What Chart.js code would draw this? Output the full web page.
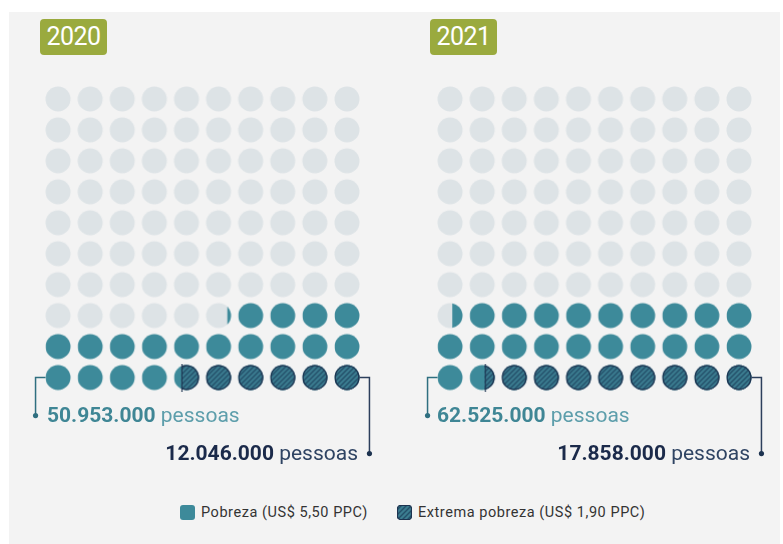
<!DOCTYPE html>
<html>
<head>
<meta charset="utf-8">
<script src="https://cdn.jsdelivr.net/npm/chart.js@4.4.1/dist/chart.umd.min.js"></script>
<style>
  body { margin: 0; background: #fff; width: 783px; height: 544px; position: relative; overflow: hidden; font-family: Roboto, "Noto Sans", sans-serif; }
  #panel { position: absolute; left: 9px; top: 12px; width: 771px; height: 532px; background: #f3f3f3; }
  .badge { position: absolute; top: 19px; height: 36px; width: 67px; background: #9aaa3e; border-radius: 4px; color: #fff;
           font-size: 25px; line-height: 36px; text-align: center; letter-spacing: -0.5px; }
  .wrap { position: absolute; top: 70px; width: 360px; height: 400px; }
  .lbl { position: absolute; font-size: 21px; line-height: 24px; white-space: nowrap; }
  .lbl b { font-weight: 700; }
  .pov b { color: #3f8695; }
  .pov span { color: #5d9eab; }
  .ext b { color: #1b2a4a; }
  .ext span { color: #2f4463; }
  #legend { position: absolute; top: 504px; left: 180px; font-size: 14.5px; letter-spacing: 0.55px; color: #333; white-space: nowrap; }
  #legend .item { position: absolute; top: 0; display: flex; align-items: center; }
  #legend .sw { width: 15px; height: 15px; border-radius: 3px; margin-right: 6px; box-sizing: border-box; }
</style>
</head>
<body>
<div id="panel"></div>
<div class="badge" style="left:40px">2020</div>
<div class="badge" style="left:430px">2021</div>
<div class="wrap" style="left:20px"><canvas id="c0" width="360" height="400"></canvas></div>
<div class="wrap" style="left:412px"><canvas id="c1" width="360" height="400"></canvas></div>

<div class="lbl pov" style="left:47px; top:403px"><b>50.953.000</b> <span>pessoas</span></div>
<div class="lbl ext" style="right:425px; top:441px"><b>12.046.000</b> <span>pessoas</span></div>
<div class="lbl pov" style="left:437px; top:403px"><b>62.525.000</b> <span>pessoas</span></div>
<div class="lbl ext" style="right:33px; top:441px"><b>17.858.000</b> <span>pessoas</span></div>

<div id="legend">
  <div class="item" style="left:0"><div class="sw" style="background:#3d8a9a"></div>Pobreza (US$ 5,50 PPC)</div>
  <div class="item" style="left:217px"><div class="sw" id="hatchSw"></div>Extrema pobreza (US$ 1,90 PPC)</div>
</div>

<script>
// values
const years = ['2020', '2021'];
const povertyPeople = [50953000, 62525000];   // US$ 5,50 PPC (includes extreme)
const extremePeople = [12046000, 17858000];   // US$ 1,90 PPC
const totalPopulation = [211000000, 212600000]; // implied by the share of filled dots
const gridCols = 10;
const gridRows = 10;

const grey = '#dde3e6';
const teal = '#3d8a9a';
const hatchBase = '#3b7c90';
const hatchLine = '#24506a';
const navy = '#1d3350';
const R = 12.5;

function hatchPattern(ctx) {
  const p = document.createElement('canvas');
  p.width = 5; p.height = 5;
  const pc = p.getContext('2d');
  pc.fillStyle = hatchBase;
  pc.fillRect(0, 0, 5, 5);
  pc.strokeStyle = hatchLine;
  pc.lineWidth = 1.4;
  pc.beginPath();
  pc.moveTo(-1, 6); pc.lineTo(6, -1);
  pc.moveTo(-1, 1); pc.lineTo(1, -1);
  pc.moveTo(4, 6); pc.lineTo(6, 4);
  pc.stroke();
  return ctx.createPattern(p, 'repeat');
}

// one image per dot: grey, then poverty part, then extreme part filled from the right
function makeDot(povFrac, extFrac) {
  const s = 28, c = s / 2;
  const cv = document.createElement('canvas');
  cv.width = s; cv.height = s;
  const g = cv.getContext('2d');
  const circle = () => { g.beginPath(); g.arc(c, c, R, 0, Math.PI * 2); };
  if (povFrac < 1) { g.fillStyle = grey; circle(); g.fill(); }
  if (povFrac > 0) {
    g.save();
    g.beginPath(); g.rect(c + R - povFrac * 2 * R, 0, s, s); g.clip();
    g.fillStyle = teal; circle(); g.fill();
    g.restore();
  }
  if (extFrac > 0) {
    const edge = c + R - extFrac * 2 * R;
    g.save();
    g.beginPath(); g.rect(edge, 0, s, s); g.clip();
    g.fillStyle = hatchPattern(g); circle(); g.fill();
    g.strokeStyle = navy; g.lineWidth = 1.3;
    g.beginPath(); g.arc(c, c, R - 0.6, 0, Math.PI * 2); g.stroke();
    if (extFrac < 1) {
      g.beginPath(); g.moveTo(edge + 0.6, 0); g.lineTo(edge + 0.6, s); g.stroke();
    }
    g.restore();
  }
  return cv;
}

const bracketPlugin = {
  id: 'brackets',
  afterDatasetsDraw(chart) {
    const { ctx, scales: { x, y } } = chart;
    const yb = y.getPixelForValue(0);
    const xl = x.getPixelForValue(0) - R;
    const xr = x.getPixelForValue(gridCols - 1) + R;
    ctx.save();
    ctx.lineWidth = 1.5;
    ctx.strokeStyle = '#2f6f80';
    ctx.fillStyle = '#2f6f80';
    ctx.beginPath();
    ctx.moveTo(xl, yb); ctx.lineTo(xl - 10, yb); ctx.lineTo(xl - 10, yb + 38);
    ctx.stroke();
    ctx.beginPath(); ctx.arc(xl - 10, yb + 38, 2.6, 0, Math.PI * 2); ctx.fill();
    ctx.strokeStyle = '#2c3f5c';
    ctx.fillStyle = navy;
    ctx.beginPath();
    ctx.moveTo(xr, yb); ctx.lineTo(xr + 10, yb); ctx.lineTo(xr + 10, yb + 76);
    ctx.stroke();
    ctx.beginPath(); ctx.arc(xr + 10, yb + 76, 2.6, 0, Math.PI * 2); ctx.fill();
    ctx.restore();
  }
};

years.forEach((year, i) => {
  const povShare = povertyPeople[i] / totalPopulation[i] * gridCols * gridRows;
  const extShare = extremePeople[i] / totalPopulation[i] * gridCols * gridRows;
  const points = [];
  const images = [];
  for (let k = 0; k < gridCols * gridRows; k++) {
    // cells counted from the bottom-right corner, right to left, row by row upward
    points.push({ x: gridCols - 1 - (k % gridCols), y: Math.floor(k / gridCols) });
    const pf = Math.min(1, Math.max(0, povShare - k));
    const ef = Math.min(1, Math.max(0, extShare - k));
    images.push(makeDot(pf, ef));
  }
  new Chart(document.getElementById('c' + i), {
    type: 'scatter',
    data: {
      datasets: [{
        label: year,
        data: points,
        pointStyle: ctx => images[ctx.dataIndex],
        pointRadius: R
      }]
    },
    options: {
      responsive: false,
      animation: false,
      devicePixelRatio: 1,
      layout: { padding: { left: 22, right: 17, top: 9, bottom: 77 } },
      scales: {
        x: { type: 'linear', min: -0.5, max: gridCols - 0.5, display: false },
        y: { type: 'linear', min: -0.5, max: gridRows - 0.5, display: false }
      },
      plugins: { legend: { display: false }, tooltip: { enabled: false } }
    },
    plugins: [bracketPlugin]
  });
});

// hatched legend swatch
const sw = document.createElement('canvas');
sw.width = 15; sw.height = 15;
const sg = sw.getContext('2d');
sg.fillStyle = hatchPattern(sg);
sg.beginPath(); sg.roundRect(0.5, 0.5, 14, 14, 3); sg.fill();
sg.strokeStyle = navy; sg.lineWidth = 1.2; sg.stroke();
document.getElementById('hatchSw').appendChild(sw);
document.getElementById('hatchSw').style.lineHeight = '0';
</script>
</body>
</html>
